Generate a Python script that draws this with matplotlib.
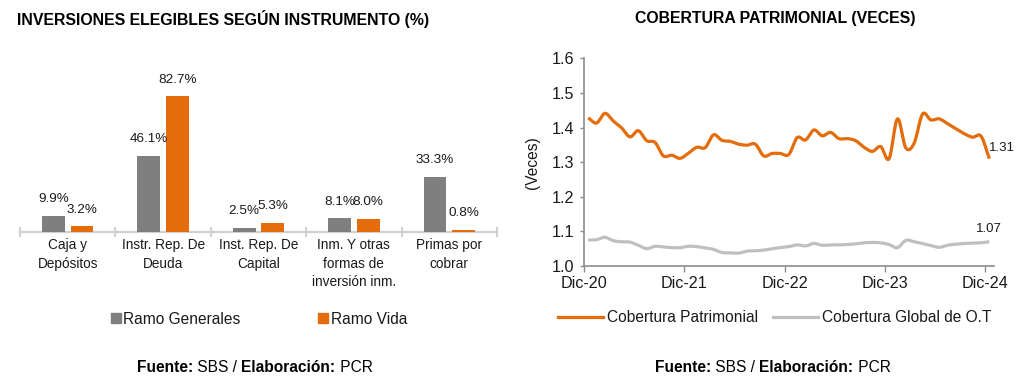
import numpy as np
import matplotlib
matplotlib.use("Agg")
import matplotlib.pyplot as plt
from matplotlib.patches import Patch
from matplotlib.lines import Line2D
from matplotlib.text import Annotation

plt.rcParams['font.family'] = ['Liberation Sans', 'DejaVu Sans']

# ---------------- data ----------------
categories = ["Caja y\nDepósitos", "Instr. Rep. De\nDeuda", "Inst. Rep. De\nCapital",
              "Inm. Y otras\nformas de\ninversión inm.", "Primas por\ncobrar"]
ramo_generales = [9.9, 46.1, 2.5, 8.1, 33.3]
ramo_vida = [3.2, 82.7, 5.3, 8.0, 0.8]

cobertura_patrimonial = [1.428, 1.413, 1.441, 1.419, 1.399, 1.373, 1.391, 1.362, 1.357, 1.318,
                         1.320, 1.311, 1.326, 1.343, 1.342, 1.379, 1.363, 1.360, 1.352, 1.349,
                         1.352, 1.318, 1.325, 1.325, 1.322, 1.371, 1.364, 1.393, 1.376, 1.386,
                         1.368, 1.368, 1.362, 1.343, 1.331, 1.345, 1.310, 1.425, 1.341, 1.355,
                         1.439, 1.422, 1.425, 1.411, 1.396, 1.382, 1.372, 1.375, 1.310]
cobertura_global = [1.075, 1.076, 1.083, 1.073, 1.070, 1.069, 1.060, 1.050, 1.057, 1.055,
                    1.053, 1.053, 1.057, 1.056, 1.052, 1.048, 1.039, 1.038, 1.037, 1.043,
                    1.044, 1.046, 1.050, 1.053, 1.056, 1.061, 1.058, 1.065, 1.060, 1.061,
                    1.061, 1.062, 1.064, 1.067, 1.068, 1.067, 1.062, 1.053, 1.074, 1.070,
                    1.065, 1.059, 1.054, 1.060, 1.063, 1.065, 1.066, 1.067, 1.070]
date_labels = ["Dic-20", "Dic-21", "Dic-22", "Dic-23", "Dic-24"]

GRAY = "#7F7F7F"
ORANGE = "#E46C0A"
LGRAY = "#BFBFBF"
TXT = "#1a1a1a"


def catmull_rom(x, y, n=16):
    x = np.asarray(x, float)
    y = np.asarray(y, float)
    px = np.concatenate([[2 * x[0] - x[1]], x, [2 * x[-1] - x[-2]]])
    py = np.concatenate([[2 * y[0] - y[1]], y, [2 * y[-1] - y[-2]]])
    xs, ys = [], []
    t = np.linspace(0, 1, n, endpoint=False)
    for i in range(1, len(px) - 2):
        p0x, p1x, p2x, p3x = px[i - 1:i + 3]
        p0y, p1y, p2y, p3y = py[i - 1:i + 3]
        c1x = p1x + (p2x - p0x) / 6
        c1y = p1y + (p2y - p0y) / 6
        c2x = p2x - (p3x - p1x) / 6
        c2y = p2y - (p3y - p1y) / 6
        b0 = (1 - t) ** 3
        b1 = 3 * (1 - t) ** 2 * t
        b2 = 3 * (1 - t) * t ** 2
        b3 = t ** 3
        xs.append(b0 * p1x + b1 * c1x + b2 * c2x + b3 * p2x)
        ys.append(b0 * p1y + b1 * c1y + b2 * c2y + b3 * p2y)
    xs.append([x[-1]])
    ys.append([y[-1]])
    return np.concatenate(xs), np.concatenate(ys)


fig = plt.figure(figsize=(10.24, 3.86), dpi=100)
W, H = 1024, 386


def fx(px):
    return px / W


def fy(py):
    return 1 - py / H


# ---------------- left chart ----------------
axL = fig.add_axes([fx(20), fy(231.7), fx(497) - fx(20), fy(70) - fy(231.7)])
xc = np.arange(len(categories))
bw = 0.24
axL.bar(xc - 0.15, ramo_generales, width=bw, color=GRAY, zorder=3)
axL.bar(xc + 0.15, ramo_vida, width=bw, color=ORANGE, zorder=3)
for i in range(len(categories)):
    axL.annotate(f"{ramo_generales[i]:.1f}%", xy=(xc[i] - 0.15, ramo_generales[i]),
                 xytext=(0, 12.2), textcoords="offset points", ha="center", va="center",
                 fontsize=9.7, color=TXT)
    axL.annotate(f"{ramo_vida[i]:.1f}%", xy=(xc[i] + 0.15, ramo_vida[i]),
                 xytext=(0, 12.2), textcoords="offset points", ha="center", va="center",
                 fontsize=9.7, color=TXT)
axL.set_xlim(-0.5, len(categories) - 0.5)
axL.set_ylim(0, 98.9)
for s in ["top", "right", "left"]:
    axL.spines[s].set_visible(False)
axL.spines["bottom"].set_color("#D0D0D0")
axL.spines["bottom"].set_linewidth(1.6)
axL.set_yticks([])
axL.set_xticks(xc)
axL.set_xticklabels(categories, fontsize=9.8, color=TXT, linespacing=1.42)
axL.tick_params(axis="x", which="major", length=0, pad=4.5)
axL.set_xticks(np.arange(-0.5, len(categories)), minor=True)
axL.tick_params(axis="x", which="minor", direction="inout", length=6.5, width=1.5, color="#D0D0D0")
fig.legend(handles=[Patch(color=GRAY, label="Ramo Generales"), Patch(color=ORANGE, label="Ramo Vida")],
           loc="center", bbox_to_anchor=(fx(259), fy(319)), ncol=2, frameon=False,
           fontsize=11.2, handlelength=0.65, handleheight=0.65, handletextpad=0.15,
           columnspacing=5.0, labelcolor=TXT)

fig.text(fx(17), fy(19), "INVERSIONES ELEGIBLES SEGÚN INSTRUMENTO (%)", fontsize=11.4,
         fontweight="bold", ha="left", va="center", color="#000000")

# ---------------- right chart ----------------
axR = fig.add_axes([fx(584), fy(266), fx(994) - fx(584), fy(58.3) - fy(266)])
xm = np.arange(len(cobertura_patrimonial))
sx, sy = catmull_rom(xm, cobertura_patrimonial)
axR.plot(sx, sy, color=ORANGE, lw=2.3, solid_capstyle="butt")
gx, gy = catmull_rom(xm, cobertura_global)
axR.plot(gx, gy, color=LGRAY, lw=2.3, solid_capstyle="butt")
axR.set_xlim(-0.5, len(xm) - 0.45)
axR.set_ylim(1.0, 1.6)
yt = np.arange(1.0, 1.61, 0.1)
axR.set_yticks(yt)
axR.set_yticklabels([f"{v:.1f}" for v in yt], fontsize=11.6, color=TXT)
axR.set_xticks(np.arange(-0.5, len(xm), 12))
axR.set_xticklabels(date_labels, fontsize=11.6, color=TXT)
for s in ["top", "right"]:
    axR.spines[s].set_visible(False)
for s in ["left", "bottom"]:
    axR.spines[s].set_color("#8C8C8C")
    axR.spines[s].set_linewidth(1.2)
axR.tick_params(axis="y", direction="out", length=3, width=1.0, color="#8C8C8C", pad=4)
axR.tick_params(axis="x", direction="out", length=4, width=1.0, color="#8C8C8C", pad=3)
axR.set_ylabel("(Veces)", fontsize=11.2, color=TXT)
axR.yaxis.set_label_coords((540 - 584) / 410, 0.5)
axR.annotate(f"{cobertura_patrimonial[-1]:.2f}", xy=(xm[-1], cobertura_patrimonial[-1]),
             xytext=(-0.5, 8), textcoords="offset points", ha="left", va="center",
             fontsize=9.5, color=TXT)
axR.annotate(f"{cobertura_global[-1]:.2f}", xy=(xm[-1], cobertura_global[-1]),
             xytext=(-0.5, 9.4), textcoords="offset points", ha="center", va="center",
             fontsize=9.5, color=TXT)
fig.legend(handles=[Line2D([], [], color=ORANGE, lw=2.3, label="Cobertura Patrimonial"),
                    Line2D([], [], color=LGRAY, lw=2.3, label="Cobertura Global de O.T")],
           loc="center", bbox_to_anchor=(fx(775), fy(318)), ncol=2, frameon=False,
           fontsize=11.2, handlelength=2.85, handletextpad=0.3, columnspacing=0.95,
           labelcolor=TXT)
fig.text(fx(775.5), fy(19), "COBERTURA PATRIMONIAL (VECES)", fontsize=11.4,
         fontweight="bold", ha="center", va="center", color="#000000")


# ---------------- footers ----------------
def footer(x0):
    t1 = fig.text(fx(x0), fy(367), "Fuente:", fontsize=11.2, fontweight="bold",
                  ha="left", va="center", color="#000000")
    t2 = fig.add_artist(Annotation(" SBS / ", xy=(1, 0), xycoords=t1, fontsize=11.2,
                                   ha="left", va="bottom", color="#000000",
                                   annotation_clip=False))
    t3 = fig.add_artist(Annotation("Elaboración:", xy=(1, 0), xycoords=t2, fontsize=11.2,
                                   fontweight="bold", ha="left", va="bottom", color="#000000",
                                   annotation_clip=False))
    fig.add_artist(Annotation(" PCR", xy=(1, 0), xycoords=t3, fontsize=11.2, ha="left",
                              va="bottom", color="#000000", annotation_clip=False))


footer(137)
footer(655)

fig.savefig("out.png", dpi=100)
